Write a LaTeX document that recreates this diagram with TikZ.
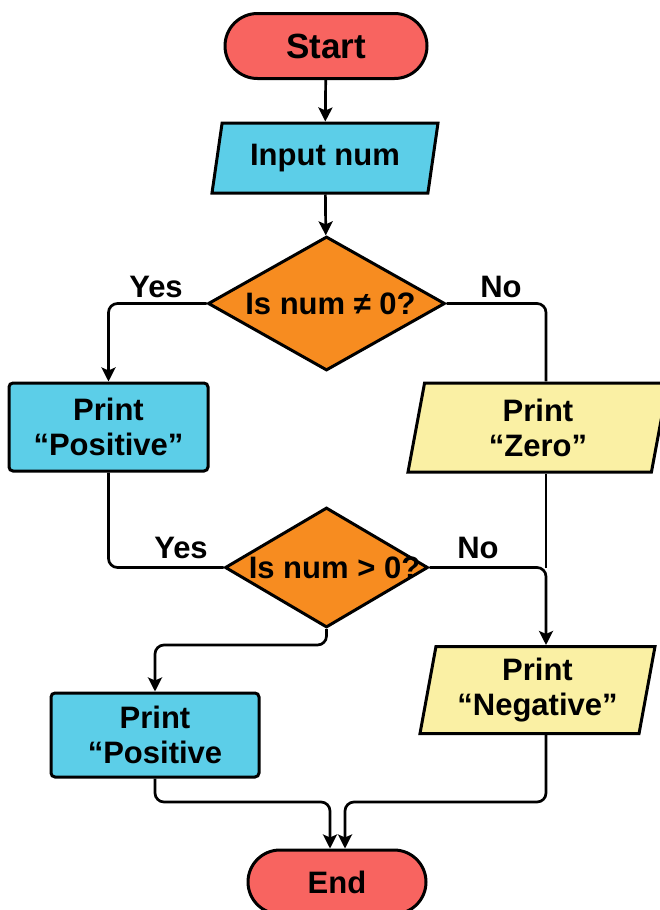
\documentclass[tikz,border=0pt]{standalone}
\usepackage{fontspec}
\setmainfont{Liberation Sans}
\usetikzlibrary{shapes.geometric,shapes.misc,arrows.meta,calc}

\definecolor{termred}{RGB}{248,100,96}
\definecolor{boxcyan}{RGB}{92,206,232}
\definecolor{decorange}{RGB}{247,140,32}
\definecolor{ioyellow}{RGB}{250,240,164}

\tikzset{
  base/.style={draw=black, line width=3pt, align=center, inner sep=0pt,
    font=\bfseries\fontsize{31}{35}\selectfont},
  terminal/.style={base, rounded rectangle, fill=termred},
  procbox/.style={base, rectangle, rounded corners=4pt, fill=boxcyan},
  iobox/.style={base, trapezium, trapezium stretches body},
  decision/.style={base, diamond, fill=decorange},
  lbl/.style={font=\bfseries\fontsize{31}{34}\selectfont, inner sep=0pt},
  conn/.style={line width=2.7pt, rounded corners=9pt},
  arrow/.style={conn, -{Stealth[length=14pt,width=14pt,inset=3pt]}},
}

\begin{document}
\begin{tikzpicture}[x=1pt,y=-1pt]
  \useasboundingbox[fill=white] (0,0) rectangle (660,910);

  % terminals
  \node[terminal, minimum width=202pt, minimum height=65pt,
        font=\bfseries\fontsize{35}{38}\selectfont] (start) at (326,46) {Start};
  \node[terminal, minimum width=178pt, minimum height=64pt] (end) at (337,882) {End};

  % input
  \node[iobox, fill=boxcyan, trapezium left angle=70, trapezium right angle=110,
        minimum width=226pt, minimum height=70pt] (input) at (325,158) {Input num};

  % decisions
  \node[decision, minimum width=237pt, minimum height=134pt] (d1) at (326.5,303.5)
        {\makebox[0pt]{\hspace{8pt}Is num ≠ 0?}};
  \node[decision, minimum width=203pt, minimum height=120pt] (d2) at (326.5,567.5)
        {\makebox[0pt]{\hspace{16pt}Is num > 0?}};

  % outputs
  \node[procbox, minimum width=199pt, minimum height=88pt] (pos1) at (108.5,427)
        {Print\\“Positive”};
  \node[procbox, minimum width=208pt, minimum height=84pt] (pos2) at (155,735)
        {Print\\“Positive};
  \node[iobox, fill=ioyellow, trapezium left angle=74, trapezium right angle=106,
        minimum width=260pt, minimum height=89pt] (zero) at (538,427.5)
        {Print\\“Zero”};
  \node[iobox, fill=ioyellow, trapezium left angle=76, trapezium right angle=104,
        minimum width=235pt, minimum height=87pt] (neg) at (537.5,690)
        {Print\\“Negative”};

  % branch labels
  \node[lbl] (yes1) at (156,287) {Yes};
  \node[lbl] (no1)  at (501,287) {No};
  \node[lbl] (yes2) at (181,548) {Yes};
  \node[lbl] (no2)  at (478,548) {No};

  % helper coordinates for the routed connectors
  \coordinate (rcol) at (546,0);
  \coordinate (split) at (326.5,645);
  \coordinate (jl) at (330,802);
  \coordinate (jr) at (345,802);

  % connectors
  \draw[arrow] (start) -- (input);
  \draw[arrow] (input) -- (d1);
  \draw[arrow] (d1.west) -| (pos1.north);
  \draw[conn]  (d1.east) -| (zero.north -| rcol);
  \draw[conn]  (pos1.south) |- (d2.west);
  \draw[conn]  (zero.south -| rcol) -- (d2.east -| rcol);
  \draw[arrow] (d2.east) -| (neg.north -| rcol);
  \draw[arrow] (d2.south) -- (split) -| (pos2.north);
  \draw[arrow] (pos2.south) |- (jl) -- (jl |- end.north);
  \draw[arrow] (neg.south -| rcol) |- (jr) -- (jr |- end.north);
\end{tikzpicture}
\end{document}
